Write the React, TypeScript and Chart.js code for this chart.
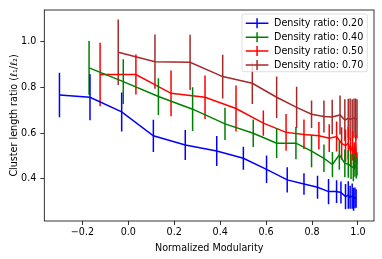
import React, { useEffect, useRef } from "react";
import { Chart, registerables } from "chart.js";

Chart.register(...registerables);

const xTicks = [-0.2, 0.0, 0.2, 0.4, 0.6, 0.8, 1.0];
const yTicks = [0.4, 0.6, 0.8, 1.0];

const seriesLabels = [
  "Density ratio: 0.20",
  "Density ratio: 0.40",
  "Density ratio: 0.50",
  "Density ratio: 0.70",
];
const seriesColors = ["#0000ff", "#008000", "#ff0000", "#a52a2a"];

const blueX = [-0.300, -0.167, -0.029, 0.109, 0.248, 0.385, 0.501, 0.602, 0.692, 0.765, 0.824, 0.872, 0.907, 0.926, 0.946, 0.958, 0.966, 0.975, 0.981, 0.987, 0.992];
const blueY = [0.766, 0.756, 0.692, 0.588, 0.548, 0.522, 0.490, 0.442, 0.396, 0.378, 0.364, 0.345, 0.345, 0.341, 0.323, 0.330, 0.320, 0.325, 0.312, 0.318, 0.315];
const blueErr = [0.097, 0.100, 0.085, 0.070, 0.065, 0.065, 0.050, 0.060, 0.055, 0.047, 0.050, 0.055, 0.050, 0.048, 0.055, 0.060, 0.050, 0.055, 0.050, 0.045, 0.040];

const greenX = [-0.171, -0.022, 0.131, 0.280, 0.421, 0.544, 0.646, 0.730, 0.798, 0.852, 0.889, 0.919, 0.943, 0.958, 0.970, 0.980, 0.987, 0.993];
const greenY = [0.884, 0.824, 0.759, 0.704, 0.640, 0.599, 0.556, 0.556, 0.521, 0.490, 0.463, 0.505, 0.468, 0.465, 0.455, 0.450, 0.460, 0.447];
const greenErr = [0.117, 0.097, 0.080, 0.095, 0.070, 0.060, 0.065, 0.070, 0.070, 0.060, 0.055, 0.065, 0.060, 0.060, 0.055, 0.060, 0.050, 0.045];

const redX = [-0.123, 0.033, 0.186, 0.334, 0.469, 0.588, 0.687, 0.765, 0.830, 0.875, 0.907, 0.929, 0.946, 0.958, 0.968, 0.977, 0.985, 0.991, 0.996];
const redY = [0.855, 0.855, 0.773, 0.756, 0.707, 0.643, 0.603, 0.594, 0.588, 0.578, 0.585, 0.555, 0.545, 0.556, 0.520, 0.545, 0.500, 0.530, 0.465];
const redErr = [0.138, 0.087, 0.100, 0.095, 0.100, 0.055, 0.080, 0.065, 0.060, 0.060, 0.065, 0.070, 0.070, 0.070, 0.060, 0.065, 0.060, 0.060, 0.050];

const brownX = [-0.044, 0.116, 0.269, 0.411, 0.540, 0.646, 0.733, 0.798, 0.852, 0.888, 0.922, 0.943, 0.958, 0.966, 0.975, 0.983, 0.990, 0.996];
const brownY = [0.952, 0.911, 0.908, 0.846, 0.817, 0.756, 0.712, 0.682, 0.672, 0.670, 0.679, 0.657, 0.664, 0.660, 0.662, 0.665, 0.660, 0.662];
const brownErr = [0.143, 0.118, 0.120, 0.095, 0.090, 0.090, 0.090, 0.060, 0.070, 0.075, 0.085, 0.090, 0.085, 0.090, 0.085, 0.085, 0.090, 0.085];

const seriesX = [blueX, greenX, redX, brownX];
const seriesY = [blueY, greenY, redY, brownY];
const seriesErr = [blueErr, greenErr, redErr, brownErr];

const FONT_FAMILY = "'DejaVu Sans', sans-serif";
const FONT_SIZE = 9.6;

const fmtTick = (v: number) => (v < 0 ? "\u2212" : "") + Math.abs(v).toFixed(1);

const errorBarPlugin = {
  id: "errorBars",
  afterDatasetDraw(chart: any, args: any) {
    const i = args.index;
    const meta = args.meta;
    const ys = chart.scales.y;
    const ctx = chart.ctx;
    const a = chart.chartArea;
    ctx.save();
    ctx.beginPath();
    ctx.rect(a.left, a.top, a.right - a.left, a.bottom - a.top);
    ctx.clip();
    ctx.strokeStyle = seriesColors[i];
    ctx.lineWidth = 1.5;
    meta.data.forEach((pt: any, j: number) => {
      const yv = seriesY[i][j];
      const e = seriesErr[i][j];
      ctx.beginPath();
      ctx.moveTo(pt.x, ys.getPixelForValue(yv + e));
      ctx.lineTo(pt.x, ys.getPixelForValue(yv - e));
      ctx.stroke();
    });
    ctx.restore();
  },
};

const framePlugin = {
  id: "frameAndLegend",
  afterDraw(chart: any) {
    const ctx = chart.ctx;
    const a = chart.chartArea;
    ctx.save();
    ctx.strokeStyle = "#000";
    ctx.lineWidth = 0.8;
    ctx.strokeRect(a.left, a.top, a.right - a.left, a.bottom - a.top);

    // legend
    ctx.font = `${FONT_SIZE}px ${FONT_FAMILY}`;
    const textW = Math.max(...seriesLabels.map((l) => ctx.measureText(l).width));
    const padL = 3.7;
    const handleW = 22.7;
    const gap = 5.6;
    const padR = 4;
    const rowH = 13.9;
    const boxW = padL + handleW + gap + textW + padR;
    const boxH = 57.7;
    const boxRight = a.right - 6.7;
    const boxLeft = boxRight - boxW;
    const boxTop = a.top + 4;
    ctx.beginPath();
    (ctx as any).roundRect(boxLeft, boxTop, boxW, boxH, 2);
    ctx.fillStyle = "rgba(255,255,255,0.8)";
    ctx.fill();
    ctx.strokeStyle = "rgba(204,204,204,0.8)";
    ctx.lineWidth = 0.8;
    ctx.stroke();

    seriesLabels.forEach((label, i) => {
      const cy = boxTop + 9.3 + i * rowH;
      const hx = boxLeft + padL;
      ctx.strokeStyle = seriesColors[i];
      ctx.lineWidth = 1.5;
      ctx.beginPath();
      ctx.moveTo(hx, cy);
      ctx.lineTo(hx + handleW, cy);
      ctx.moveTo(hx + handleW / 2, cy - 5);
      ctx.lineTo(hx + handleW / 2, cy + 5);
      ctx.stroke();
      ctx.fillStyle = "#000";
      ctx.textBaseline = "middle";
      ctx.textAlign = "left";
      ctx.fillText(label, hx + handleW + gap, cy + 0.5);
    });
    ctx.restore();
  },
};

export default function App() {
  const ref = useRef<HTMLCanvasElement | null>(null);

  useEffect(() => {
    if (!ref.current) return;
    const datasets = seriesLabels.map((label, i) => ({
      label,
      data: seriesX[i].map((x, j) => ({ x, y: seriesY[i][j] })),
      borderColor: seriesColors[i],
      backgroundColor: seriesColors[i],
      borderWidth: 1.5,
      pointRadius: 0,
      pointHoverRadius: 0,
      showLine: true,
      tension: 0,
      fill: false,
    }));

    const tickFont = { family: FONT_FAMILY, size: FONT_SIZE };

    const chart = new Chart(ref.current, {
      type: "scatter",
      data: { datasets },
      options: {
        animation: false,
        responsive: false,
        maintainAspectRatio: false,
        devicePixelRatio: 1,
        layout: { padding: { top: 10, right: 8, left: 0, bottom: 0 } },
        plugins: {
          legend: { display: false },
          tooltip: { enabled: false },
        },
        scales: {
          x: {
            type: "linear",
            min: -0.366,
            max: 1.07,
            afterBuildTicks: (s: any) => {
              s.ticks = xTicks.map((v) => ({ value: v }));
            },
            afterFit: (s: any) => {
              s.height = 38;
            },
            ticks: {
              callback: (v: any) => fmtTick(Number(v)),
              color: "#000",
              font: tickFont,
              padding: 2,
              maxRotation: 0,
              autoSkip: false,
            },
            grid: {
              drawOnChartArea: false,
              drawTicks: true,
              tickLength: 4,
              tickColor: "#000",
              tickWidth: 0.8,
            },
            border: { display: false },
            title: {
              display: true,
              text: "Normalized Modularity",
              color: "#000",
              font: tickFont,
              padding: { top: 0, bottom: 5 },
            },
          },
          y: {
            type: "linear",
            min: 0.217,
            max: 1.136,
            afterBuildTicks: (s: any) => {
              s.ticks = yTicks.map((v) => ({ value: v }));
            },
            afterFit: (s: any) => {
              s.width = 44.3;
            },
            ticks: {
              callback: (v: any) => fmtTick(Number(v)),
              color: "#000",
              font: tickFont,
              padding: 4,
              autoSkip: false,
            },
            grid: {
              drawOnChartArea: false,
              drawTicks: true,
              tickLength: 4,
              tickColor: "#000",
              tickWidth: 0.8,
            },
            border: { display: false },
            title: {
              display: true,
              text: "Cluster length ratio (\u2113\u2081/\u2113\u2082)",
              color: "#000",
              font: tickFont,
              padding: { top: 8.5, bottom: 0 },
            },
          },
        },
      },
      plugins: [errorBarPlugin, framePlugin],
    } as any);
    return () => chart.destroy();
  }, []);

  return (
    <div style={{ position: "absolute", left: 0, top: 0, width: 382, height: 259, background: "#fff" }}>
      <canvas ref={ref} width={382} height={259} style={{ display: "block", width: 382, height: 259 }} />
    </div>
  );
}
